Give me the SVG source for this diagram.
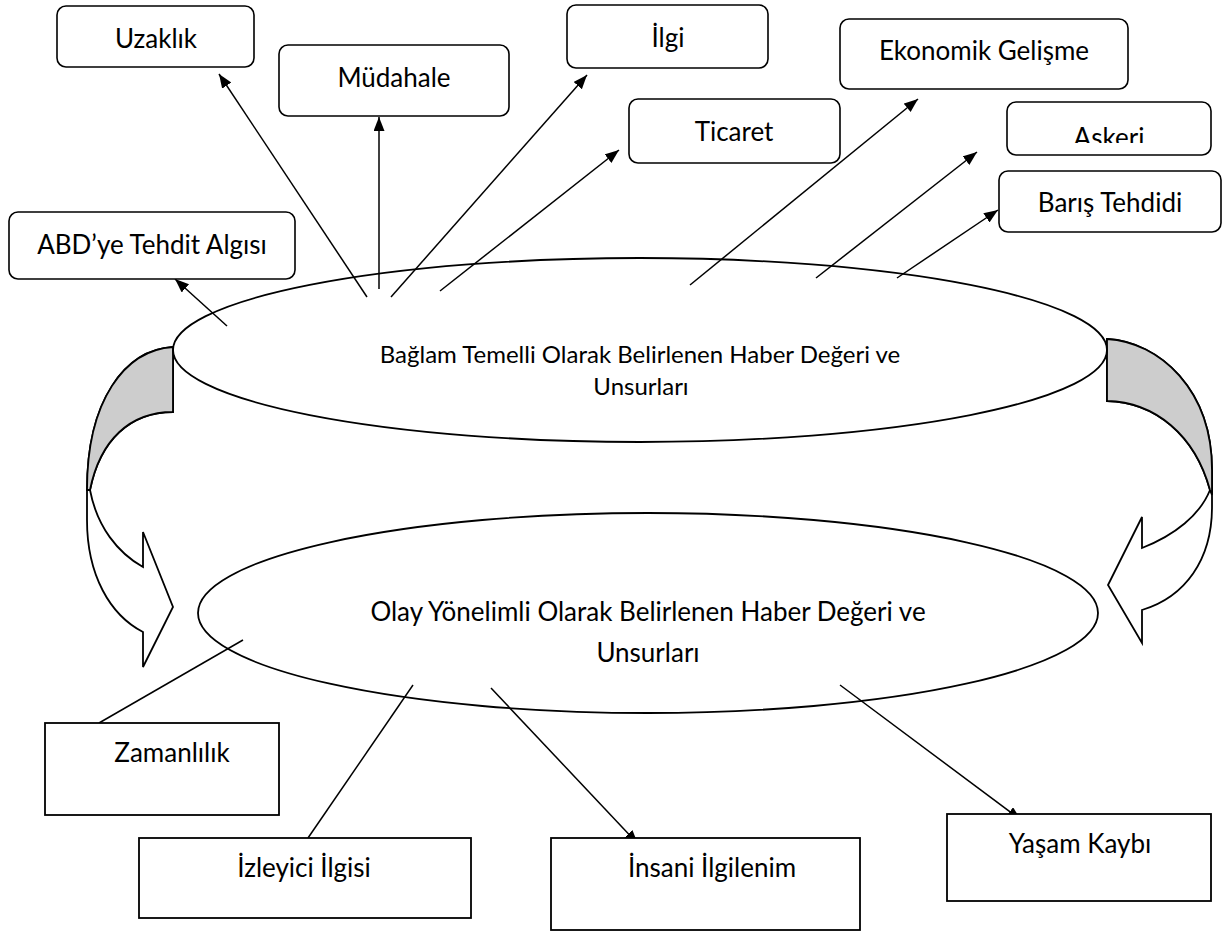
<svg xmlns="http://www.w3.org/2000/svg" width="1223" height="931" viewBox="0 0 1223 931">
<style>
.rbox{fill:#fff;stroke:#000;stroke-width:1.6}
.sbox{fill:#fff;stroke:#000;stroke-width:1.8}
.ell{fill:none;stroke:#000;stroke-width:1.8}
.lbl{font-family:Lato,"Liberation Sans",sans-serif;font-size:26px;fill:#000;text-anchor:middle}
.elbl1{font-family:Lato,"Liberation Sans",sans-serif;font-size:24px;fill:#000;text-anchor:middle}
.elbl2{font-family:Lato,"Liberation Sans",sans-serif;font-size:26px;fill:#000;text-anchor:middle}
.con{stroke:#000;stroke-width:1.5;fill:none}
.arr{marker-end:url(#ah)}
.cur{fill:#fff;stroke:#000;stroke-width:1.8;stroke-linejoin:miter}
.gray{fill:#cdcdcd;stroke:#000;stroke-width:1.8}
</style>
<defs>
<marker id="ah" markerUnits="userSpaceOnUse" markerWidth="16" markerHeight="12" refX="14" refY="5.5" orient="auto">
<path d="M0,0 L14,5.5 L0,11 z" fill="#000"/>
</marker>
<clipPath id="askclip"><rect x="1007" y="102" width="204" height="41"/></clipPath>
</defs>

<g id="curved-arrow-left">
<path class="cur" d="M173,347 C125,350 87,400 87,490 L87,520 C87,575 110,615 143,632 L143,667 L173,607 L143,532 L143,567 C118,553 97,527 90,490 C100,440 130,412 173,412 Z"/>
<path class="gray" d="M173,347 C125,350 87,400 87,490 L90,490 C100,440 130,412 173,412 Z"/>
</g>
<g id="curved-arrow-right">
<path class="cur" d="M1107,339 C1160,342 1212,390 1212,470 L1212,507 C1212,560 1185,597 1142,610 L1142,643 L1108,585 L1142,517 L1142,548 C1175,535 1200,515 1210,490 C1195,435 1155,402 1107,401 Z"/>
<path class="gray" d="M1107,339 C1160,342 1212,390 1212,470 L1212,495 L1210,490 C1195,435 1155,402 1107,401 Z"/>
</g>

<g id="context-ellipse">
<ellipse class="ell" cx="640" cy="350" rx="467" ry="92"/>
<text class="elbl1" x="640" y="363">Bağlam Temelli Olarak Belirlenen Haber Değeri ve</text>
<text class="elbl1" x="641" y="395">Unsurları</text>
</g>
<g id="event-ellipse">
<ellipse class="ell" cx="648" cy="613" rx="450" ry="100"/>
<text class="elbl2" x="648" y="621">Olay Yönelimli Olarak Belirlenen Haber Değeri ve</text>
<text class="elbl2" x="648" y="662">Unsurları</text>
</g>

<g id="connectors">
<line class="con arr" x1="227" y1="326" x2="175" y2="279"/>
<line class="con arr" x1="367" y1="297" x2="219" y2="74"/>
<line class="con arr" x1="379" y1="289" x2="379" y2="117"/>
<line class="con arr" x1="391" y1="297" x2="587" y2="75"/>
<line class="con arr" x1="440" y1="291" x2="619" y2="150"/>
<line class="con arr" x1="690" y1="285" x2="918" y2="99"/>
<line class="con arr" x1="816" y1="278" x2="977" y2="152"/>
<line class="con arr" x1="897" y1="278" x2="998" y2="210"/>
<line class="con" x1="243" y1="640" x2="99" y2="723"/>
<line class="con" x1="413" y1="685" x2="308" y2="838"/>
<line class="con arr" x1="491" y1="688" x2="638" y2="844"/>
<line class="con arr" x1="840" y1="685" x2="1021" y2="820"/>
</g>

<g id="uzaklik"><rect class="rbox" x="57" y="6" width="197" height="61" rx="9"/><text class="lbl" x="156" y="48">Uzaklık</text></g>
<g id="mudahale"><rect class="rbox" x="279" y="45" width="230" height="71" rx="9"/><text class="lbl" x="394" y="87">Müdahale</text></g>
<g id="ilgi"><rect class="rbox" x="567" y="5" width="201" height="63" rx="9"/><text class="lbl" x="668" y="47">İlgi</text></g>
<g id="ticaret"><rect class="rbox" x="629" y="99" width="211" height="64" rx="9"/><text class="lbl" x="734" y="141">Ticaret</text></g>
<g id="ekonomik"><rect class="rbox" x="840" y="19" width="288" height="70" rx="9"/><text class="lbl" x="984" y="60">Ekonomik Gelişme</text></g>
<g id="askeri"><rect class="rbox" x="1007" y="102" width="204" height="53" rx="9"/><text class="lbl" x="1109" y="147" clip-path="url(#askclip)">Askeri</text></g>
<g id="baris"><rect class="rbox" x="999" y="171" width="222" height="61" rx="9"/><text class="lbl" x="1110" y="212">Barış Tehdidi</text></g>
<g id="abd"><rect class="rbox" x="9" y="212" width="286" height="67" rx="9"/><text class="lbl" x="152" y="254">ABD’ye Tehdit Algısı</text></g>

<g id="zamanlilik"><rect class="sbox" x="45" y="723" width="234" height="92"/><text class="lbl" x="172" y="762">Zamanlılık</text></g>
<g id="izleyici"><rect class="sbox" x="139" y="838" width="332" height="80"/><text class="lbl" x="304" y="877">İzleyici İlgisi</text></g>
<g id="insani"><rect class="sbox" x="551" y="838" width="309" height="92"/><text class="lbl" x="712" y="877">İnsani İlgilenim</text></g>
<g id="yasam"><rect class="sbox" x="947" y="814" width="264" height="87"/><text class="lbl" x="1080" y="853">Yaşam Kaybı</text></g>
</svg>
